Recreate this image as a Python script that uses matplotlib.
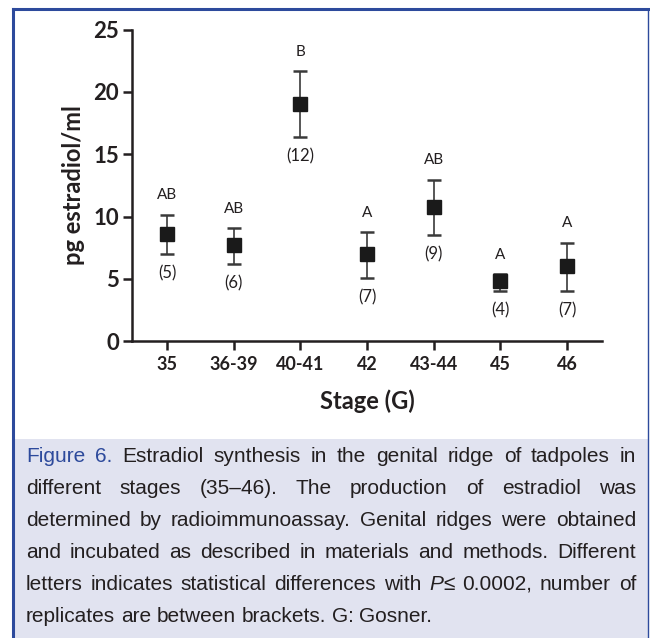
import matplotlib
matplotlib.use("Agg")
import matplotlib.pyplot as plt
from matplotlib.patches import Rectangle
from matplotlib.lines import Line2D

# data
stages = ['35', '36-39', '40-41', '42', '43-44', '45', '46']
means = [8.6, 7.7, 19.0, 7.0, 10.75, 4.8, 6.0]
err_low = [7.0, 6.2, 16.35, 5.05, 8.5, 4.0, 4.0]
err_high = [10.15, 9.05, 21.65, 8.75, 12.95, 5.4, 7.9]
letters = ['AB', 'AB', 'B', 'A', 'AB', 'A', 'A']
n_reps = ['(5)', '(6)', '(12)', '(7)', '(9)', '(4)', '(7)']

W, H = 650, 638
fig = plt.figure(figsize=(6.5, 6.38), dpi=100)
fig.patch.set_facecolor('white')

BLUE = '#2d4a9c'
INK = '#231f20'
AXFONT = ['Lato', 'DejaVu Sans']

# caption panel and frame
fig.patches.append(Rectangle((12 / W, 0), (648 - 12) / W, (H - 439) / H,
                             transform=fig.transFigure, facecolor='#e1e3f0',
                             edgecolor='none', zorder=0))
fig.lines.append(Line2D([12.5 / W, 12.5 / W], [0, 1 - 8.5 / H], transform=fig.transFigure,
                        color=BLUE, lw=2.2))
fig.lines.append(Line2D([12.5 / W, 648 / W], [1 - 8.5 / H, 1 - 8.5 / H], transform=fig.transFigure,
                        color=BLUE, lw=2.2))
fig.lines.append(Line2D([648 / W, 648 / W], [0, 1 - 8.5 / H], transform=fig.transFigure,
                        color=BLUE, lw=1.0))

# chart
ax = fig.add_axes([132.3 / W, 1 - 341.3 / H, (601.7 - 132.3) / W, (341.3 - 29.5) / H])
x = list(range(len(stages)))
yerr = [[m - lo for m, lo in zip(means, err_low)], [hi - m for m, hi in zip(means, err_high)]]
ax.errorbar(x, means, yerr=yerr, fmt='none', ecolor='#3a3a3a', elinewidth=1.2,
            capsize=5, capthick=1.8, zorder=2)
ax.plot(x, means, 's', color='#1a1a1a', markersize=9.5, zorder=3)

for i in x:
    ax.annotate(letters[i], (i, err_high[i]), xytext=(0, 14), textcoords='offset points',
                ha='center', va='center', fontsize=11, color=INK, family=AXFONT)
    ax.annotate(n_reps[i], (i, err_low[i]), xytext=(0, -14), textcoords='offset points',
                ha='center', va='center', fontsize=12, color=INK, family=AXFONT)

ax.set_xlim(-0.52, 6.52)
ax.set_ylim(0, 25)
ax.set_yticks([0, 5, 10, 15, 20, 25])
ax.set_xticks(x)
ax.set_xticklabels(stages)
for s in ['top', 'right']:
    ax.spines[s].set_visible(False)
for s in ['left', 'bottom']:
    ax.spines[s].set_linewidth(1.8)
    ax.spines[s].set_color(INK)
ax.tick_params(axis='both', direction='out', length=6.5, width=1.8, color=INK)
ax.tick_params(axis='y', pad=3)
ax.tick_params(axis='x', pad=4)
for lab in ax.get_yticklabels():
    lab.set_fontsize(16)
    lab.set_fontweight('bold')
    lab.set_family(AXFONT)
    lab.set_color(INK)
for lab in ax.get_xticklabels():
    lab.set_fontsize(13)
    lab.set_fontweight('bold')
    lab.set_family(AXFONT)
    lab.set_color(INK)
ax.set_ylabel('pg estradiol/ml', fontsize=17, fontweight='bold', family=AXFONT,
              color=INK, labelpad=6)
ax.set_xlabel('Stage (G)', fontsize=17, fontweight='bold', family=AXFONT,
              color=INK, labelpad=12)

# caption, justified by hand
CAPFONT = ['Liberation Sans Narrow', 'Liberation Sans', 'DejaVu Sans']
caption_lines = [
    [[('Figure', 'b')], [('6.', 'b')], [('Estradiol', 'n')], [('synthesis', 'n')], [('in', 'n')],
     [('the', 'n')], [('genital', 'n')], [('ridge', 'n')], [('of', 'n')], [('tadpoles', 'n')], [('in', 'n')]],
    [[(w, 'n')] for w in 'different stages (35\u201346). The production of estradiol was'.split()],
    [[(w, 'n')] for w in 'determined by radioimmunoassay. Genital ridges were obtained'.split()],
    [[(w, 'n')] for w in 'and incubated as described in materials and methods. Different'.split()],
    [[(w, 'n')] for w in 'letters indicates statistical differences with'.split()]
    + [[('P', 'i'), ('\u2264', 'n')], [('0.0002,', 'n')], [('number', 'n')], [('of', 'n')]],
    [[(w, 'n')] for w in 'replicates are between brackets. G: Gosner.'.split()],
]
line_y = [457, 489, 521, 552, 584, 616]
left_px, right_px = 26, 636
fsize = 15
renderer = fig.canvas.get_renderer()

def make_seg(txt, kind, xp, yp):
    color = BLUE if kind == 'b' else '#231f20'
    style = 'italic' if kind == 'i' else 'normal'
    return fig.text(xp / W, 1 - yp / H, txt, fontsize=fsize, color=color, style=style,
                    family=CAPFONT, ha='left', va='center')

for li, words in enumerate(caption_lines):
    yp = line_y[li]
    widths = []
    word_texts = []
    for word in words:
        segs = []
        wsum = 0
        for txt, kind in word:
            t = make_seg(txt, kind, 0, yp)
            bb = t.get_window_extent(renderer)
            segs.append((t, bb.width))
            wsum += bb.width
        word_texts.append(segs)
        widths.append(wsum)
    if li == len(caption_lines) - 1:
        space = fig.text(0, 0, 'a b', fontsize=fsize, family=CAPFONT)
        sw = space.get_window_extent(renderer).width - fig.text(0, 0, 'ab', fontsize=fsize,
                                                                  family=CAPFONT).get_window_extent(renderer).width
        for t in fig.texts[-2:]:
            t.remove()
        gap = sw
    else:
        gap = (right_px - left_px - sum(widths)) / (len(words) - 1)
    xp = left_px
    for segs, wsum in zip(word_texts, widths):
        sx = xp
        for t, w in segs:
            t.set_position((sx / W, 1 - yp / H))
            sx += w
        xp += wsum + gap

fig.savefig('out.png', dpi=100)
